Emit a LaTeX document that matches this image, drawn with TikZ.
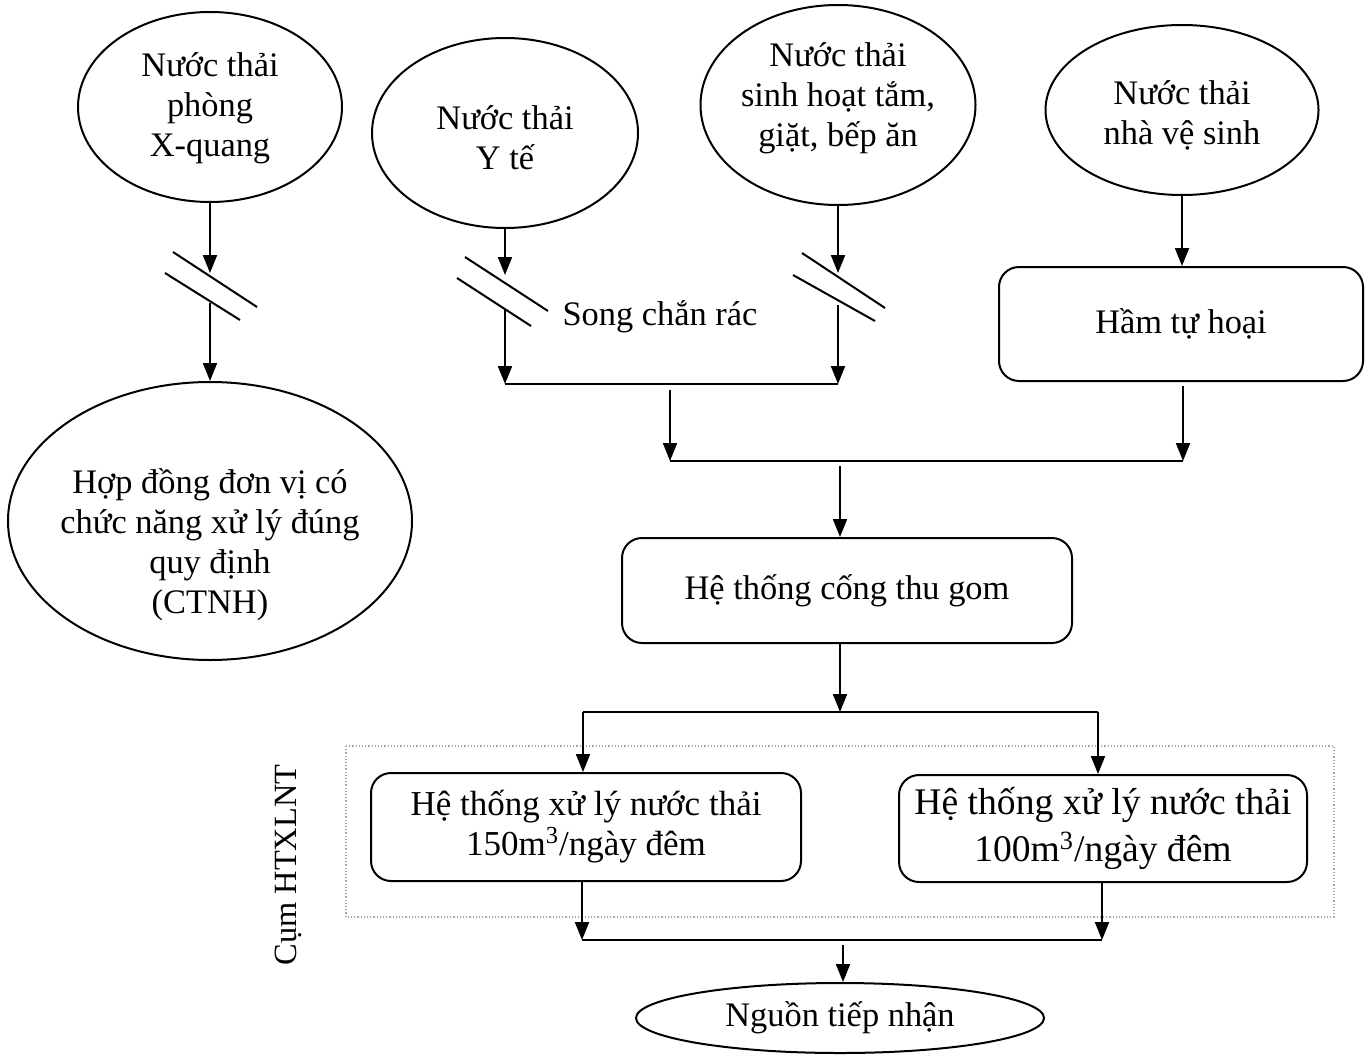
\documentclass[tikz,border=0pt]{standalone}
\usepackage{fontspec}
\setmainfont{Liberation Serif}
\usetikzlibrary{arrows.meta,shapes.geometric}
\begin{document}
\begin{tikzpicture}[x=0.5pt,y=-0.5pt,
  every node/.style={font=\fontsize{17.2}{20}\selectfont},
  flow/.style={line width=1pt,-{Triangle[length=9pt,width=7pt]}},
  pipe/.style={line width=1pt},
  bar/.style={line width=1pt},
  oval/.style={draw,ellipse,line width=1pt,inner sep=0pt},
  box/.style={draw,rounded corners=10pt,line width=1pt,inner sep=0pt},
  lbl/.style={align=center,inner sep=0pt}]
\useasboundingbox (0,0) rectangle (1369,1054);

% group frame of the treatment plants
\draw[densely dotted,gray!70,line width=0.6pt] (346,746) rectangle (1334,917);
\node[rotate=90,inner sep=0pt,font=\fontsize{16.2}{19}\selectfont] (grp) at (288,865) {Cụm HTXLNT};

% sources
\node[oval,minimum width=132pt,minimum height=95pt] (xray) at (210,107) {};
\node[lbl] (xraytxt) at (210,108) {Nước thải\\phòng\\X-quang};
\node[oval,minimum width=133pt,minimum height=95pt] (yte) at (505,133) {};
\node[lbl] (ytetxt) at (505,138) {Nước thải\\Y tế};
\node[oval,minimum width=137.5pt,minimum height=100pt] (sh) at (838,105) {};
\node[lbl] (shtxt) at (838,98) {Nước thải\\sinh hoạt tắm,\\giặt, bếp ăn};
\node[oval,minimum width=136.5pt,minimum height=85pt] (vs) at (1182,110) {};
\node[lbl] (vstxt) at (1182,115) {Nước thải\\nhà vệ sinh};

% hazardous waste contract
\node[oval,minimum width=202pt,minimum height=139pt] (ctnh) at (210,521) {};
\node[lbl] (ctnhtxt) at (210,545) {Hợp đồng đơn vị có\\chức năng xử lý đúng\\quy định\\(CTNH)};

% boxes
\node[box,minimum width=182pt,minimum height=57pt] (ham) at (1181,324) {Hầm tự hoại};
\node[box,minimum width=225pt,minimum height=52.5pt] (cong) at (847,590.5) {Hệ thống cống thu gom};
\node[box,minimum width=215pt,minimum height=54pt,align=center,
      font=\fontsize{17.5}{20}\selectfont] (t150) at (586,827)
      {Hệ thống xử lý nước thải\\150m\textsuperscript{3}/ngày đêm};
\node[box,minimum width=204pt,minimum height=53.5pt,align=center,
      font=\fontsize{18.8}{23.5}\selectfont] (t100) at (1103,828.5)
      {Hệ thống xử lý nước thải\\100m\textsuperscript{3}/ngày đêm};
\node[oval,minimum width=204pt,minimum height=35pt] (nguon) at (840,1018) {Nguồn tiếp nhận};

% screens
\node[inner sep=0pt] (screen) at (660,317) {Song chắn rác};
\draw[bar] (173,252) -- (257,307);  \draw[bar] (165,273) -- (240,320);
\draw[bar] (465,257) -- (548,311);  \draw[bar] (457,278) -- (531,326);
\draw[bar] (802,253) -- (885,308);  \draw[bar] (793,275) -- (875,321);

% junction points
\coordinate (xa) at (210,273);  \coordinate (xb) at (210,303);
\coordinate (ya) at (505,275);  \coordinate (yb) at (505,310);
\coordinate (sa) at (838,273);  \coordinate (sb) at (838,305);
\coordinate (j1l) at (505,384); \coordinate (j1r) at (838,384);
\coordinate (j1m) at (670,390);
\coordinate (j2l) at (670,461); \coordinate (j2r) at (1183,461);
\coordinate (j2m) at (840,466);
\coordinate (j3m) at (840,712);
\coordinate (j3l) at (583,712); \coordinate (j3r) at (1098,712);
\coordinate (j4l) at (582,940); \coordinate (j4r) at (1102,940);
\coordinate (j4m) at (843,945);

% X-ray branch
\draw[flow] (xray.south) -- (xa);
\draw[flow] (xb) -- (ctnh.north);

% screened branches
\draw[flow] (yte.south) -- (ya);
\draw[flow] (yb) -- (j1l);
\draw[flow] (sh.south) -- (sa);
\draw[flow] (sb) -- (j1r);
\draw[pipe] (j1l) -- (j1r);
\draw[flow] (j1m) -- (j2l);

% toilet branch
\draw[flow] (vs.south) -- (vs.south |- ham.north);
\draw[flow] ([yshift=-2pt]ham.south -| j2r) -- (j2r);
\draw[pipe] (j2l) -- (j2r);

% collection and treatment
\draw[flow] (j2m) -- (j2m |- cong.north);
\draw[flow] (cong.south -| j3m) -- (j3m);
\draw[pipe] (j3l) -- (j3r);
\draw[flow] (j3l) -- (j3l |- t150.north);
\draw[flow] (j3r) -- (j3r |- t100.north);
\draw[flow] (t150.south -| j4l) -- (j4l);
\draw[flow] (t100.south -| j4r) -- (j4r);
\draw[pipe] (j4l) -- (j4r);
\draw[flow] (j4m) -- (j4m |- nguon.north);
\end{tikzpicture}
\end{document}
